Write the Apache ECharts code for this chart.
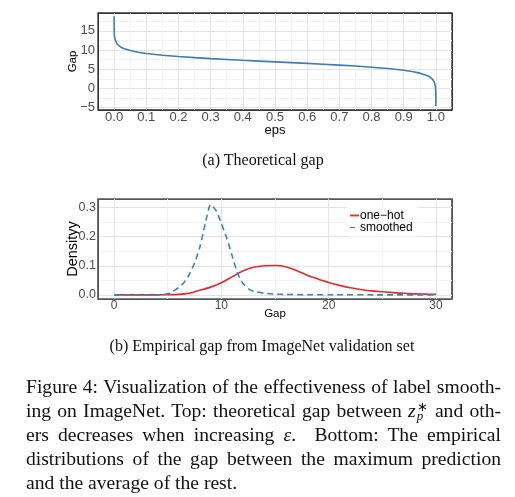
<!DOCTYPE html>
<html><head><meta charset="utf-8">
<script src="https://cdn.jsdelivr.net/npm/echarts@6/dist/echarts.min.js"></script>
<style>
body{margin:0;background:#fff;}
#chart{position:absolute;left:0;top:0;width:515px;height:497px;}
.cap{position:absolute;font-family:'Liberation Serif','Times New Roman',serif;color:#111;}
.sub{font-size:16px;line-height:20px;text-align:center;width:400px;white-space:nowrap;}
.fig{left:26px;width:475px;font-size:19.6px;line-height:24px;}
.fig div{height:24px;text-align:justify;text-align-last:justify;}
.fig div.last{text-align:left;text-align-last:left;}
.zp{display:inline-block;vertical-align:-3px;line-height:9px;font-size:13px;margin-left:1px;margin-right:1px;}
.zp span{display:block;}
</style></head>
<body>
<div id="chart"></div>
<div class="cap sub" style="left:63px;top:150px;">(a) Theoretical gap</div>
<div class="cap sub" style="left:62px;top:336px;">(b) Empirical gap from ImageNet validation set</div>
<div class="cap fig" style="top:375px;">
<div>Figure 4: Visualization of the effectiveness of label smooth-</div>
<div>ing on ImageNet. Top: theoretical gap between <i>z</i><span class="zp"><span>∗</span><span><i>p</i></span></span> and oth-</div>
<div>ers decreases when increasing <i>ε</i>.&nbsp; Bottom: The empirical</div>
<div>distributions of the gap between the maximum prediction</div>
<div class="last">and the average of the rest.</div>
</div>
<script>
// ---- Top chart: theoretical gap vs eps ----
const epsValues = [0.000007, 0.00002, 0.0001, 0.0005, 0.001, 0.003, 0.005, 0.01, 0.02, 0.03, 0.05, 0.075, 0.1, 0.15, 0.2, 0.25, 0.3, 0.35, 0.4, 0.45, 0.5, 0.55, 0.6, 0.65, 0.7, 0.75, 0.8, 0.85, 0.9, 0.93, 0.95, 0.97, 0.98, 0.99, 0.995, 0.998, 0.999, 0.9995, 0.9999, 0.99999];
const gapValues = [18.78, 17.73, 16.12, 14.51, 13.81, 12.71, 12.20, 11.50, 10.80, 10.38, 9.85, 9.42, 9.10, 8.64, 8.29, 8.01, 7.75, 7.53, 7.31, 7.11, 6.91, 6.71, 6.50, 6.29, 6.06, 5.81, 5.52, 5.17, 4.71, 4.32, 3.96, 3.43, 3.01, 2.31, 1.61, 0.69, 0.00, -0.69, -2.30, -4.61];

// ---- Bottom chart: empirical gap densities ----
const oneHotGap = [0,1,2,3,4,5,6,7,8,9,10,11,12,13,14,15,16,17,18,19,20,21,22,23,24,25,26,27,28,29,30];
const oneHotDensity = [0.0005,0.0005,0.0005,0.0005,0.0006,0.001,0.002,0.006,0.016,0.027,0.042,0.062,0.082,0.095,0.1,0.101,0.097,0.084,0.068,0.055,0.043,0.033,0.025,0.019,0.014,0.011,0.008,0.006,0.004,0.003,0.002];
const smoothedGap = [0,1,2,3,4,4.5,5,5.5,6,6.5,7,7.5,8,8.5,9,9.5,10,10.5,11,11.5,12,12.5,13,14,15,16,18,20,25,30];
const smoothedDensity = [0.0005,0.0005,0.0005,0.0005,0.0006,0.001,0.004,0.013,0.025,0.042,0.07,0.11,0.165,0.245,0.31,0.29,0.245,0.195,0.135,0.075,0.04,0.022,0.013,0.006,0.003,0.002,0.001,0.001,0.0005,0.0003];
const seriesNames = ['one\u2212hot', 'smoothed'];

const FONT = 'Liberation Sans, Arial, sans-serif';
const LABEL = '#4d4d4d';
const MAJOR = '#e4e4e4', MINOR = '#f2f2f2';
const minus = s => s.replace('-', '\u2212');
// split-line colours per tick: edge ticks take the panel border colour, then major / minor alternate
function lineColors(n, border) {
  const c = [];
  for (let i = 0; i < n; i++) c.push(i === 0 || i === n - 1 ? border : (i % 2 ? MAJOR : MINOR));
  return c;
}
const RED = '#e8262b', BLUE = '#3d7fc1';

const chart = echarts.init(document.getElementById('chart'), null, {renderer: 'canvas'});
chart.setOption({
  backgroundColor: 'transparent',
  animation: false,
  grid: [
    {left: 98, top: 13, width: 354, height: 97, show: true, borderColor: '#333', borderWidth: 1.3, backgroundColor: 'transparent'},
    {left: 98, top: 199, width: 354, height: 100, show: true, borderColor: '#555', borderWidth: 1.7, backgroundColor: 'transparent'}
  ],
  legend: {
    data: [
      {name: seriesNames[0], icon: 'rect', itemStyle: {color: RED}},
      {name: seriesNames[1], icon: 'path://M0,0H5V1H0ZM8.98,0H9V1H8.98Z', itemStyle: {color: BLUE}}
    ],
    orient: 'vertical',
    left: 347, top: 206.5,
    padding: [3, 5, 3, 3],
    itemWidth: 9, itemHeight: 1.8, itemGap: 0,
    backgroundColor: '#fff',
    textStyle: {fontFamily: FONT, fontSize: 12, color: '#000', lineHeight: 10, padding: [0, 0, 0, -4]}
  },
  xAxis: [
    {gridIndex: 0, type: 'value', min: -0.05, max: 1.05, interval: 0.05,
     name: 'eps', nameLocation: 'middle', nameGap: 14, nameMoveOverlap: false,
     nameTextStyle: {fontFamily: FONT, fontSize: 13, color: '#000'},
     axisLine: {show: false}, axisTick: {show: false},
     axisLabel: {margin: 1, fontFamily: FONT, fontSize: 13, color: LABEL,
       formatter: v => Math.round(v * 100) % 10 === 0 ? (Math.round(v * 10) / 10).toFixed(1) : ''},
     splitLine: {show: true, lineStyle: {color: lineColors(23, '#333'), width: 1}}},
    {gridIndex: 1, type: 'value', min: -1.5, max: 31.5, minInterval: 5, maxInterval: 5, splitNumber: 7,
     name: 'Gap', nameLocation: 'middle', nameGap: 9, nameMoveOverlap: false,
     nameTextStyle: {fontFamily: FONT, fontSize: 11.5, color: '#000'},
     axisLine: {show: false}, axisTick: {show: false},
     axisLabel: {margin: 1, fontFamily: FONT, fontSize: 12, color: LABEL,
       formatter: v => (Math.abs(v - Math.round(v)) < 1e-6 && Math.round(v) % 10 === 0) ? String(Math.round(v)) : ''},
     splitLine: {show: true, lineStyle: {color: lineColors(9, '#555'), width: 1}}}
  ],
  yAxis: [
    {gridIndex: 0, type: 'value', min: -5.65, max: 19.65, minInterval: 2.5, maxInterval: 2.5, splitNumber: 10,
     name: 'Gap', nameLocation: 'middle', nameGap: 19, nameMoveOverlap: false,
     nameTextStyle: {fontFamily: FONT, fontSize: 11.5, color: '#000'},
     axisLine: {show: false}, axisTick: {show: false},
     axisLabel: {margin: 3, fontFamily: FONT, fontSize: 13, color: LABEL,
       formatter: v => { const r = Math.round(v); return (Math.abs(v - r) < 1e-6 && r % 5 === 0) ? minus(String(r)) : ''; }},
     splitLine: {show: true, lineStyle: {color: lineColors(12, '#333'), width: 1}}},
    {gridIndex: 1, type: 'value', min: -0.0137, max: 0.329, minInterval: 0.05, maxInterval: 0.05, splitNumber: 7,
     name: 'Densityy', nameLocation: 'middle', nameGap: 18, nameMoveOverlap: false,
     nameTextStyle: {fontFamily: FONT, fontSize: 14.5, color: '#000'},
     axisLine: {show: false}, axisTick: {show: false},
     axisLabel: {margin: 2, fontFamily: FONT, fontSize: 12.5, color: LABEL,
       formatter: v => { const r = Math.round(v * 100); return (Math.abs(v * 100 - r) < 1e-6 && r % 10 === 0) ? (r / 100).toFixed(1) : ''; }},
     splitLine: {show: true, lineStyle: {color: lineColors(9, '#555'), width: 1}}}
  ],
  series: [
    {type: 'line', xAxisIndex: 0, yAxisIndex: 0, symbol: 'none', silent: true,
     data: epsValues.map((e, i) => [e, gapValues[i]]),
     lineStyle: {color: '#3a7cbd', width: 1.6}},
    {name: seriesNames[0], type: 'line', xAxisIndex: 1, yAxisIndex: 1, symbol: 'none', smooth: 0.3,
     data: oneHotGap.map((g, i) => [g, oneHotDensity[i]]),
     itemStyle: {color: RED},
     lineStyle: {color: RED, width: 1.6}},
    {name: seriesNames[1], type: 'line', xAxisIndex: 1, yAxisIndex: 1, symbol: 'none', smooth: 0.2,
     data: smoothedGap.map((g, i) => [g, smoothedDensity[i]]),
     itemStyle: {color: BLUE},
     lineStyle: {color: BLUE, width: 1.6, type: [6, 4]}}
  ]
});
</script>
</body></html>
